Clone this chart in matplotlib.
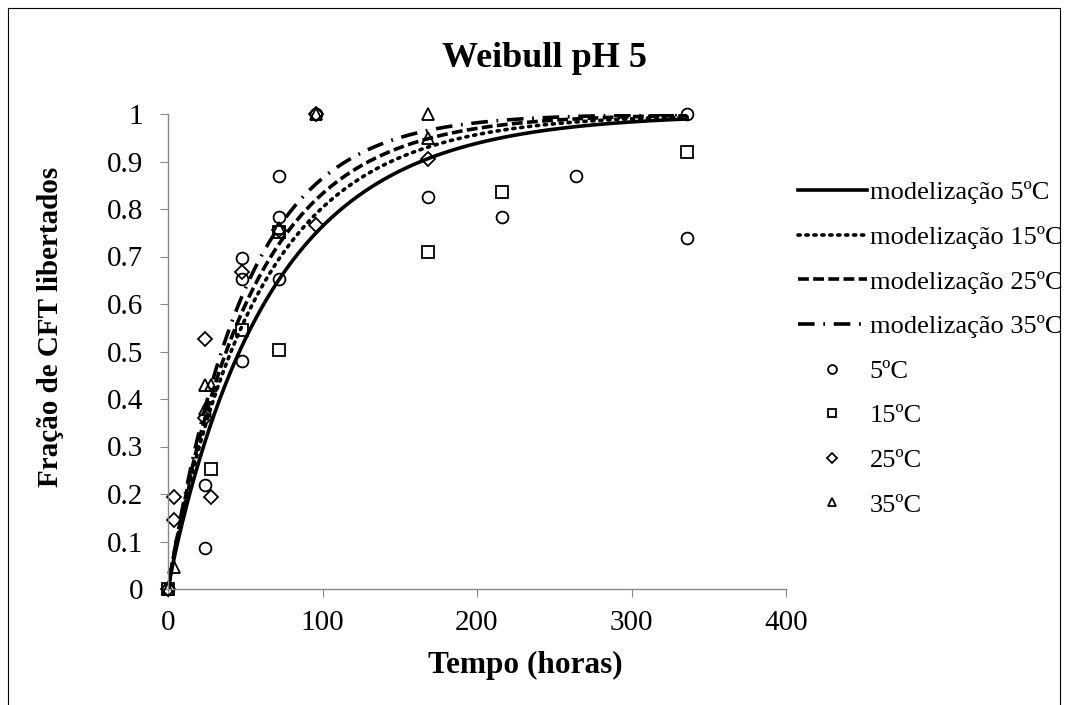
import numpy as np
import matplotlib
matplotlib.use("Agg")
import matplotlib.pyplot as plt
from matplotlib.patches import Rectangle

plt.rcParams["font.family"] = ["Liberation Serif", "DejaVu Serif"]

# Weibull fit parameters (scale, shape) per temperature
TEMPS = ["5ºC", "15ºC", "25ºC", "35ºC"]
SCALE = [68.0, 60.0, 55.0, 50.0]
SHAPE = [0.95, 0.95, 0.97, 1.0]

# measured fractions (hours, fraction)
t_5 = [0, 24, 24, 48, 48, 48, 72, 72, 72, 96, 168, 216, 264, 336, 336]
y_5 = [0, 0.087, 0.218, 0.48, 0.653, 0.697, 0.653, 0.783, 0.87, 1.0, 0.826, 0.783, 0.87, 1.0, 0.74]

t_15 = [0, 28, 48, 72, 72, 168, 216, 336]
y_15 = [0, 0.253, 0.545, 0.503, 0.752, 0.709, 0.836, 0.92]

t_25 = [0, 4, 4, 24, 24, 28, 48, 72, 96, 96, 168]
y_25 = [0, 0.193, 0.146, 0.526, 0.36, 0.193, 0.667, 0.755, 0.766, 1.0, 0.905]

t_35 = [0, 4, 24, 28, 24, 72, 96, 168, 168]
y_35 = [0, 0.046, 0.43, 0.43, 0.38, 0.76, 1.0, 1.0, 0.95]

W, H = 1069, 705
fig = plt.figure(figsize=(W / 100, H / 100), dpi=100)
fig.patches.append(Rectangle((8 / W, -0.01), 1052 / W, 1 - 8 / H + 0.01,
                             transform=fig.transFigure, fill=False,
                             edgecolor="black", linewidth=0.8))

ax = fig.add_axes([168 / W, 1 - 589 / H, (786 - 168) / W, (589 - 114) / H])

t = np.linspace(0, 336, 400)
styles = [
    dict(linestyle="-"),
    dict(linestyle=(0, (0.6, 1.6)), dash_capstyle="round"),
    dict(linestyle=(0, (3.0, 1.2))),
    dict(linestyle=(0, (4.6, 2.4, 0.5, 2.4))),
]
for temp, a, b, st in zip(TEMPS, SCALE, SHAPE, styles):
    f = 1 - np.exp(-(t / a) ** b)
    ax.plot(t, f, color="black", linewidth=2.6, label="modelização " + temp, **st)

mk = dict(linestyle="none", markerfacecolor="none", markeredgecolor="black",
          markeredgewidth=1.3, clip_on=False)
ax.plot(t_5, y_5, marker="o", markersize=8.5, label=TEMPS[0], **mk)
ax.plot(t_15, y_15, marker="s", markersize=8.5, label=TEMPS[1], **mk)
ax.plot(t_25, y_25, marker="D", markersize=7, label=TEMPS[2], **mk)
ax.plot(t_35, y_35, marker="^", markersize=8.5, label=TEMPS[3], **mk)

ax.set_xlim(0, 400)
ax.set_ylim(0, 1)
ax.set_xticks([0, 100, 200, 300, 400])
ax.set_yticks(np.round(np.arange(0, 1.01, 0.1), 1))
ax.set_yticklabels(["0", "0.1", "0.2", "0.3", "0.4", "0.5", "0.6", "0.7", "0.8", "0.9", "1"])
for s in ["top", "right"]:
    ax.spines[s].set_visible(False)
for s in ["left", "bottom"]:
    ax.spines[s].set_color("#888888")
    ax.spines[s].set_linewidth(1.0)
ax.tick_params(direction="out", length=6, color="#888888", labelsize=21)
ax.tick_params(axis="y", pad=12)
ax.tick_params(axis="x", pad=9)

fig.text(544 / W, 1 - 67 / H, "Weibull pH 5", fontsize=26, fontweight="bold",
         ha="center", va="baseline")
fig.text(525 / W, 1 - 673 / H, "Tempo (horas)", fontsize=22.5, fontweight="bold",
         ha="center", va="baseline")
fig.text(51 / W, 1 - 327 / H, "Fração de CFT libertados", fontsize=21,
         fontweight="bold", rotation=90, ha="center", va="center")

ax.legend(loc="upper left", bbox_to_anchor=(798 / W, 1 - 181 / H),
          bbox_transform=fig.transFigure, frameon=False, fontsize=19,
          handlelength=2.6, handletextpad=0.12, labelspacing=0.8,
          markerscale=0.75, borderaxespad=0, borderpad=0)

fig.savefig("out.png", dpi=100)
